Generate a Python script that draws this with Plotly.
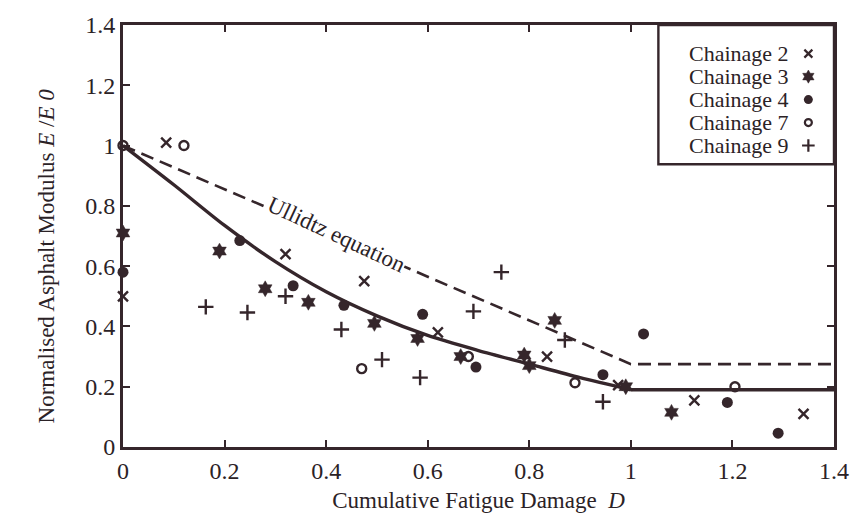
import plotly.graph_objects as go

ink = "#35262b"
txt = "#2b2226"
serif = "Liberation Serif"

# ---- data ----
ch2_D = [0.0, 0.085, 0.32, 0.475, 0.62, 0.835, 0.975, 1.125, 1.34]
ch2_E = [0.50, 1.01, 0.64, 0.55, 0.38, 0.30, 0.205, 0.155, 0.11]

ch3_D = [0.0, 0.19, 0.28, 0.365, 0.495, 0.58, 0.665, 0.79, 0.80, 0.85, 0.99, 1.08]
ch3_E = [0.71, 0.65, 0.525, 0.48, 0.41, 0.36, 0.30, 0.305, 0.27, 0.42, 0.20, 0.115]

ch4_D = [0.0, 0.23, 0.335, 0.435, 0.59, 0.695, 0.945, 1.025, 1.19, 1.29]
ch4_E = [0.58, 0.685, 0.535, 0.47, 0.44, 0.265, 0.24, 0.375, 0.148, 0.046]

ch7_D = [0.0, 0.12, 0.47, 0.68, 0.89, 1.205]
ch7_E = [1.0, 1.0, 0.26, 0.30, 0.213, 0.20]

ch9_D = [0.163, 0.245, 0.32, 0.43, 0.51, 0.585, 0.69, 0.745, 0.87, 0.945]
ch9_E = [0.465, 0.446, 0.50, 0.39, 0.29, 0.23, 0.45, 0.58, 0.355, 0.15]

# fitted curve (curved part up to D = 1, then flat tail)
fit_D = [0.0, 0.1, 0.2, 0.3, 0.4, 0.5, 0.6, 0.7, 0.8, 0.9, 1.0]
fit_E = [1.0, 0.87, 0.735, 0.615, 0.515, 0.435, 0.37, 0.32, 0.275, 0.23, 0.19]
tail_D = [1.0, 1.4]
tail_E = [0.19, 0.19]

ullidtz_D = [0.0, 1.0, 1.4]
ullidtz_E = [1.0, 0.275, 0.275]

tick_vals = [0, 0.2, 0.4, 0.6, 0.8, 1.0, 1.2, 1.4]
tick_text = ["0", "0.2", "0.4", "0.6", "0.8", "1", "1.2", "1.4"]

series_names = ["Chainage 2", "Chainage 3", "Chainage 4", "Chainage 7", "Chainage 9"]
series_D = [ch2_D, ch3_D, ch4_D, ch7_D, ch9_D]
series_E = [ch2_E, ch3_E, ch4_E, ch7_E, ch9_E]

# ---- styles ----
styles = [
    dict(symbol="x-thin", size=10, color=ink, line=dict(width=2.4, color=ink)),
    dict(symbol="hexagram", size=12, color=ink, line=dict(width=0.5, color=ink)),
    dict(symbol="circle", size=11, color=ink, line=dict(width=0, color=ink)),
    dict(symbol="circle-open", size=9, color=ink, line=dict(width=2.4, color=ink)),
    dict(symbol="cross-thin", size=11, color=ink, line=dict(width=2.4, color=ink)),
]
key_styles = [
    dict(symbol="x-thin", size=8, line=dict(width=2.2, color=ink)),
    dict(symbol="hexagram", size=10, line=dict(width=0.5, color=ink)),
    dict(symbol="circle", size=9, line=dict(width=0, color=ink)),
    dict(symbol="circle-open", size=7, line=dict(width=2.2, color=ink)),
    dict(symbol="cross-thin", size=9, line=dict(width=2.2, color=ink)),
]

fig = go.Figure()

fig.add_trace(go.Scatter(x=ullidtz_D, y=ullidtz_E, mode="lines", name="Ullidtz equation",
                         line=dict(color=ink, width=2.6, dash="13px,7px"), showlegend=False))
fig.add_trace(go.Scatter(x=fit_D, y=fit_E, mode="lines", name="Fit",
                         line=dict(color=ink, width=3.4, shape="spline", smoothing=0.8),
                         showlegend=False))
fig.add_trace(go.Scatter(x=tail_D, y=tail_E, mode="lines", name="Fit tail",
                         line=dict(color=ink, width=3.4), showlegend=False))

for name, d, e, st in zip(series_names, series_D, series_E, styles):
    fig.add_trace(go.Scatter(x=d, y=e, mode="markers", name=name, marker=st,
                             cliponaxis=False, showlegend=False))

# custom legend (text first, symbol after, as in the reference)
for i, (name, st) in enumerate(zip(series_names, key_styles)):
    fig.add_trace(go.Scatter(x=[0], y=[i], mode="markers", xaxis="x2", yaxis="y2",
                             marker=dict(color=ink, **st), showlegend=False,
                             hoverinfo="skip", cliponaxis=False))
    fig.add_annotation(x=0.939, xref="paper", y=i, yref="y2", text=name,
                       showarrow=False, xanchor="right", yanchor="middle",
                       font=dict(family=serif, size=22, color=txt))

fig.add_shape(type="rect", xref="paper", yref="paper", x0=0.753, x1=1.0, y0=0.670, y1=1.0,
              line=dict(color=ink, width=2.4), fillcolor="rgba(0,0,0,0)", layer="above")

fig.add_annotation(x=0.42, y=0.705, xref="x", yref="y", text="Ullidtz equation",
                   textangle=25, showarrow=False, bgcolor="white", borderpad=0,
                   font=dict(family=serif, size=23, color=txt))

fig.add_annotation(x=-0.108, y=0.452, xref="paper", yref="paper", textangle=-90,
                   text="Normalised Asphalt Modulus <i>E</i> /<i>E</i> <i>0</i>",
                   showarrow=False, xanchor="center", yanchor="middle",
                   font=dict(family=serif, size=23, color=txt))

axis_common = dict(
    range=[0, 1.4], tickvals=tick_vals, ticktext=tick_text,
    ticks="inside", ticklen=7, tickwidth=2.4, tickcolor=ink,
    showline=True, linewidth=3, linecolor=ink, mirror="ticks",
    showgrid=False, zeroline=False,
    tickfont=dict(family=serif, size=24, color=txt),
)

fig.update_layout(
    width=861, height=522,
    margin=dict(l=123, r=18, t=23, b=72),
    paper_bgcolor="white", plot_bgcolor="white",
    showlegend=False,
    font=dict(family=serif, color=txt),
    xaxis=dict(**axis_common,
               title=dict(text="Cumulative Fatigue Damage  <i>D</i>",
                          font=dict(family=serif, size=23, color=txt), standoff=10)),
    yaxis=dict(**axis_common),
    xaxis2=dict(domain=[0.753, 1.0], anchor="y2", range=[-0.854, 0.146], visible=False),
    yaxis2=dict(domain=[0.670, 1.0], anchor="x2", range=[4.817, -1.247], visible=False),
)

fig.write_html("out.html")
